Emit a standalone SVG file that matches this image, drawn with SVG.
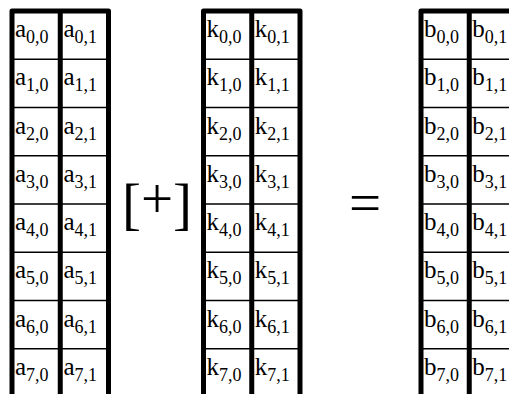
<svg xmlns="http://www.w3.org/2000/svg" width="509" height="394" viewBox="0 0 509 394">
<style>
.frame{fill:none;stroke:#000;stroke-width:5;stroke-linejoin:round}
.rows{fill:none;stroke:#000;stroke-width:1.5}
.c{font-size:25px}
.s{font-size:18px}
.op{font-size:57px}
</style>
<rect width="509" height="394" fill="#fff"/>
<g id="matrix-a">
<path class="rows" d="M12 59.25H108.5M12 107.5H108.5M12 155.75H108.5M12 204H108.5M12 252.25H108.5M12 300.5H108.5M12 348.75H108.5"/>
<path class="frame" d="M12 400V11H108.5V400M60.25 11V400"/>
<text class="c" font-family="Liberation Serif" x="15" y="37">a<tspan class="s" font-family="Liberation Serif" dy="6">0,0</tspan></text>
<text class="c" font-family="Liberation Serif" x="63.5" y="37">a<tspan class="s" font-family="Liberation Serif" dy="6">0,1</tspan></text>
<text class="c" font-family="Liberation Serif" x="15" y="85.25">a<tspan class="s" font-family="Liberation Serif" dy="6">1,0</tspan></text>
<text class="c" font-family="Liberation Serif" x="63.5" y="85.25">a<tspan class="s" font-family="Liberation Serif" dy="6">1,1</tspan></text>
<text class="c" font-family="Liberation Serif" x="15" y="133.5">a<tspan class="s" font-family="Liberation Serif" dy="6">2,0</tspan></text>
<text class="c" font-family="Liberation Serif" x="63.5" y="133.5">a<tspan class="s" font-family="Liberation Serif" dy="6">2,1</tspan></text>
<text class="c" font-family="Liberation Serif" x="15" y="181.75">a<tspan class="s" font-family="Liberation Serif" dy="6">3,0</tspan></text>
<text class="c" font-family="Liberation Serif" x="63.5" y="181.75">a<tspan class="s" font-family="Liberation Serif" dy="6">3,1</tspan></text>
<text class="c" font-family="Liberation Serif" x="15" y="230">a<tspan class="s" font-family="Liberation Serif" dy="6">4,0</tspan></text>
<text class="c" font-family="Liberation Serif" x="63.5" y="230">a<tspan class="s" font-family="Liberation Serif" dy="6">4,1</tspan></text>
<text class="c" font-family="Liberation Serif" x="15" y="278.25">a<tspan class="s" font-family="Liberation Serif" dy="6">5,0</tspan></text>
<text class="c" font-family="Liberation Serif" x="63.5" y="278.25">a<tspan class="s" font-family="Liberation Serif" dy="6">5,1</tspan></text>
<text class="c" font-family="Liberation Serif" x="15" y="326.5">a<tspan class="s" font-family="Liberation Serif" dy="6">6,0</tspan></text>
<text class="c" font-family="Liberation Serif" x="63.5" y="326.5">a<tspan class="s" font-family="Liberation Serif" dy="6">6,1</tspan></text>
<text class="c" font-family="Liberation Serif" x="15" y="374.75">a<tspan class="s" font-family="Liberation Serif" dy="6">7,0</tspan></text>
<text class="c" font-family="Liberation Serif" x="63.5" y="374.75">a<tspan class="s" font-family="Liberation Serif" dy="6">7,1</tspan></text>
</g>
<g id="op-plus">
<text class="op" font-family="Liberation Serif" x="157" y="222.7" text-anchor="middle">[<tspan font-family="Liberation Serif" dy="-5">+</tspan><tspan font-family="Liberation Serif" dy="5">]</tspan></text>
</g>
<g id="matrix-k">
<path class="rows" d="M203.5 59.25H300M203.5 107.5H300M203.5 155.75H300M203.5 204H300M203.5 252.25H300M203.5 300.5H300M203.5 348.75H300"/>
<path class="frame" d="M203.5 400V11H300V400M251.75 11V400"/>
<text class="c" font-family="Liberation Serif" x="206.5" y="37">k<tspan class="s" font-family="Liberation Serif" dy="6">0,0</tspan></text>
<text class="c" font-family="Liberation Serif" x="254.75" y="37">k<tspan class="s" font-family="Liberation Serif" dy="6">0,1</tspan></text>
<text class="c" font-family="Liberation Serif" x="206.5" y="85.25">k<tspan class="s" font-family="Liberation Serif" dy="6">1,0</tspan></text>
<text class="c" font-family="Liberation Serif" x="254.75" y="85.25">k<tspan class="s" font-family="Liberation Serif" dy="6">1,1</tspan></text>
<text class="c" font-family="Liberation Serif" x="206.5" y="133.5">k<tspan class="s" font-family="Liberation Serif" dy="6">2,0</tspan></text>
<text class="c" font-family="Liberation Serif" x="254.75" y="133.5">k<tspan class="s" font-family="Liberation Serif" dy="6">2,1</tspan></text>
<text class="c" font-family="Liberation Serif" x="206.5" y="181.75">k<tspan class="s" font-family="Liberation Serif" dy="6">3,0</tspan></text>
<text class="c" font-family="Liberation Serif" x="254.75" y="181.75">k<tspan class="s" font-family="Liberation Serif" dy="6">3,1</tspan></text>
<text class="c" font-family="Liberation Serif" x="206.5" y="230">k<tspan class="s" font-family="Liberation Serif" dy="6">4,0</tspan></text>
<text class="c" font-family="Liberation Serif" x="254.75" y="230">k<tspan class="s" font-family="Liberation Serif" dy="6">4,1</tspan></text>
<text class="c" font-family="Liberation Serif" x="206.5" y="278.25">k<tspan class="s" font-family="Liberation Serif" dy="6">5,0</tspan></text>
<text class="c" font-family="Liberation Serif" x="254.75" y="278.25">k<tspan class="s" font-family="Liberation Serif" dy="6">5,1</tspan></text>
<text class="c" font-family="Liberation Serif" x="206.5" y="326.5">k<tspan class="s" font-family="Liberation Serif" dy="6">6,0</tspan></text>
<text class="c" font-family="Liberation Serif" x="254.75" y="326.5">k<tspan class="s" font-family="Liberation Serif" dy="6">6,1</tspan></text>
<text class="c" font-family="Liberation Serif" x="206.5" y="374.75">k<tspan class="s" font-family="Liberation Serif" dy="6">7,0</tspan></text>
<text class="c" font-family="Liberation Serif" x="254.75" y="374.75">k<tspan class="s" font-family="Liberation Serif" dy="6">7,1</tspan></text>
</g>
<g id="op-equals">
<text class="op" font-family="Liberation Serif" x="349" y="222">=</text>
</g>
<g id="matrix-b">
<path class="rows" d="M421 59.25H517.5M421 107.5H517.5M421 155.75H517.5M421 204H517.5M421 252.25H517.5M421 300.5H517.5M421 348.75H517.5"/>
<path class="frame" d="M421 400V11H517.5V400M469.25 11V400"/>
<text class="c" font-family="Liberation Serif" x="424" y="37">b<tspan class="s" font-family="Liberation Serif" dy="6">0,0</tspan></text>
<text class="c" font-family="Liberation Serif" x="472.25" y="37">b<tspan class="s" font-family="Liberation Serif" dy="6">0,1</tspan></text>
<text class="c" font-family="Liberation Serif" x="424" y="85.25">b<tspan class="s" font-family="Liberation Serif" dy="6">1,0</tspan></text>
<text class="c" font-family="Liberation Serif" x="472.25" y="85.25">b<tspan class="s" font-family="Liberation Serif" dy="6">1,1</tspan></text>
<text class="c" font-family="Liberation Serif" x="424" y="133.5">b<tspan class="s" font-family="Liberation Serif" dy="6">2,0</tspan></text>
<text class="c" font-family="Liberation Serif" x="472.25" y="133.5">b<tspan class="s" font-family="Liberation Serif" dy="6">2,1</tspan></text>
<text class="c" font-family="Liberation Serif" x="424" y="181.75">b<tspan class="s" font-family="Liberation Serif" dy="6">3,0</tspan></text>
<text class="c" font-family="Liberation Serif" x="472.25" y="181.75">b<tspan class="s" font-family="Liberation Serif" dy="6">3,1</tspan></text>
<text class="c" font-family="Liberation Serif" x="424" y="230">b<tspan class="s" font-family="Liberation Serif" dy="6">4,0</tspan></text>
<text class="c" font-family="Liberation Serif" x="472.25" y="230">b<tspan class="s" font-family="Liberation Serif" dy="6">4,1</tspan></text>
<text class="c" font-family="Liberation Serif" x="424" y="278.25">b<tspan class="s" font-family="Liberation Serif" dy="6">5,0</tspan></text>
<text class="c" font-family="Liberation Serif" x="472.25" y="278.25">b<tspan class="s" font-family="Liberation Serif" dy="6">5,1</tspan></text>
<text class="c" font-family="Liberation Serif" x="424" y="326.5">b<tspan class="s" font-family="Liberation Serif" dy="6">6,0</tspan></text>
<text class="c" font-family="Liberation Serif" x="472.25" y="326.5">b<tspan class="s" font-family="Liberation Serif" dy="6">6,1</tspan></text>
<text class="c" font-family="Liberation Serif" x="424" y="374.75">b<tspan class="s" font-family="Liberation Serif" dy="6">7,0</tspan></text>
<text class="c" font-family="Liberation Serif" x="472.25" y="374.75">b<tspan class="s" font-family="Liberation Serif" dy="6">7,1</tspan></text>
</g>
</svg>
